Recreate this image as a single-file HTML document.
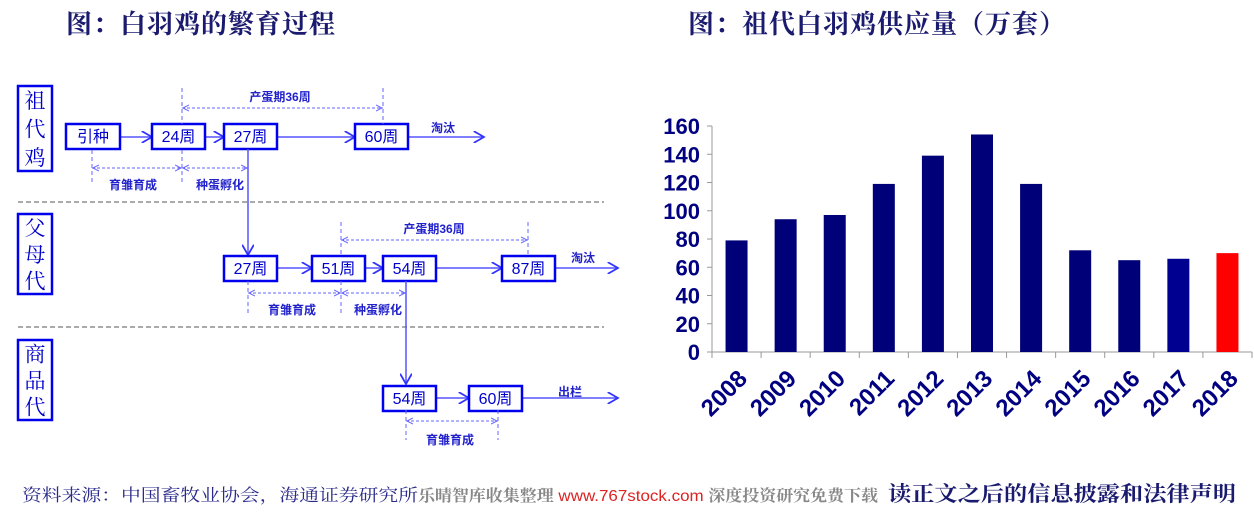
<!DOCTYPE html>
<html><head><meta charset="utf-8"><style>
body{margin:0;width:1254px;height:512px;background:#fff;overflow:hidden;font-family:"Liberation Sans","Noto Sans CJK SC",sans-serif}
svg{position:absolute;left:0;top:0}
</style></head><body>
<svg width="1254" height="512">
<defs>
<marker id="ar" markerWidth="8" markerHeight="8" refX="7" refY="4" orient="auto"><path d="M0,0L7,4L0,8" fill="none" stroke="#3333ff" stroke-width="1.2"/></marker>
<marker id="ad" markerWidth="8" markerHeight="8" refX="7" refY="4" orient="auto-start-reverse"><path d="M0,1L6,4L0,7" fill="none" stroke="#6666ff" stroke-width="1"/></marker>
</defs>
<g font-family="'Noto Serif CJK SC','Noto Sans CJK SC',serif" font-size="26" fill="#1a1a6e" font-weight="bold" letter-spacing="1">
<text x="66" y="33">图：白羽鸡的繁育过程</text>
<text x="688" y="33">图：祖代白羽鸡供应量（万套）</text>
</g>
<g id="diagram"></g>
<g id="chart"></g>
<g font-family="'Liberation Sans','Noto Serif CJK SC',serif" font-size="17">
<text x="22" y="501" fill="#2a2a8a" textLength="396" lengthAdjust="spacingAndGlyphs">资料来源：中国畜牧业协会，海通证券研究所</text>
<text x="418" y="501" fill="#888" font-size="16" font-weight="bold" textLength="460" lengthAdjust="spacingAndGlyphs">乐晴智库收集整理 <tspan fill="#d22" font-weight="normal">www.767stock.com</tspan> 深度投资研究免费下载</text>
<text x="888" y="501" fill="#1a1a6e" font-weight="bold" font-size="21" textLength="348" lengthAdjust="spacingAndGlyphs">读正文之后的信息披露和法律声明</text>
</g>
</svg>
<script>
const NS="http://www.w3.org/2000/svg";
function mk(p,t,a,txt){const e=document.createElementNS(NS,t);for(const k in a)e.setAttribute(k,a[k]);if(txt!==undefined)e.textContent=txt;p.appendChild(e);return e;}
// ---- diagram ----
const D=document.getElementById('diagram');
function sep(y){const e=mk(D,'line',{x1:18,y1:y,x2:604,y2:y,stroke:'#aaa','stroke-width':2,'stroke-dasharray':'5,3'});

}
sep(202);sep(327);
function vlabel(y1,y2,txt){const r=mk(D,'rect',{x:18,y:y1,width:34,height:y2-y1,fill:'none',stroke:'#0000ee','stroke-width':2.5});


const n=txt.length,step=(y2-y1)/n;
for(let i=0;i<n;i++){const t=mk(D,'text',{x:35,y:y1+step*i+step/2+8,'text-anchor':'middle','font-size':21,fill:'#0000cc','font-family':"'Noto Serif CJK SC',serif"},txt[i]);

}}
vlabel(86,171,'祖代鸡');vlabel(214,294,'父母代');vlabel(340,420,'商品代');
function box(x1,x2,y,txt){const r=mk(D,'rect',{x:x1,y:y,width:x2-x1,height:25,fill:'#fff',stroke:'#0000ee','stroke-width':2.5});


const t=mk(D,'text',{x:(x1+x2)/2,y:y+18,'text-anchor':'middle','font-size':16,fill:'#0000cc'},txt);

}
function arrow(x1,y1,x2,y2){const l=mk(D,'line',{x1,y1,x2,y2,stroke:'#5555ff','stroke-width':1.5,'marker-end':'url(#ar)'});

}
function dv(x,y1,y2){mk(D,'line',{x1:x,y1,x2:x,y2,stroke:'#6666ff','stroke-width':1,'stroke-dasharray':'4,3'});}
function dh(x1,x2,y){const l=mk(D,'line',{x1,y1:y,x2,y2:y,stroke:'#6666ff','stroke-width':1,'stroke-dasharray':'3,2','marker-start':'url(#ad)','marker-end':'url(#ad)'});

}
function lab(x,y,txt){const t=mk(D,'text',{x,y,'font-size':12,'font-weight':'bold',fill:'#2222cc','text-anchor':'middle'},txt);

}
// row1
arrow(120,137,152,137);arrow(205,137,224,137);arrow(277,137,355,137);arrow(408,137,484,137);
box(66,120,124,'引种');box(152,205,124,'24周');box(224,277,124,'27周');box(355,408,124,'60周');
lab(443,132,'淘汰');
dv(182,88,124);dv(383,88,124);dh(182,383,108);lab(280,101,'产蛋期36周');
dv(92,150,185);dv(182,150,185);dh(92,182,168);dh(182,248,168);lab(133,189,'育雏育成');lab(220,189,'种蛋孵化');
arrow(248,149,248,255);
// row2
arrow(277,268,312,268);arrow(365,268,383,268);arrow(436,268,502,268);arrow(555,268,618,268);
box(224,277,256,'27周');box(312,365,256,'51周');box(383,436,256,'54周');box(502,555,256,'87周');
lab(583,262,'淘汰');
dv(341,222,256);dv(528,222,256);dh(341,528,240);lab(434,233,'产蛋期36周');
dv(248,281,315);dv(341,281,315);dh(248,341,293);dh(341,406,293);lab(292,314,'育雏育成');lab(378,314,'种蛋孵化');
arrow(406,281,406,384);
// row3
arrow(436,398,469,398);arrow(522,398,618,398);
box(383,436,386,'54周');box(469,522,386,'60周');
lab(570,396,'出栏');
dv(406,410,440);dv(498,410,440);dh(406,498,421);lab(450,444,'育雏育成');

// ---- bar chart ----
const years=['2008','2009','2010','2011','2012','2013','2014','2015','2016','2017','2018'];
const values=[79,94,97,119,139,154,119,72,65,66,70];
const yTicks=[0,20,40,60,80,100,120,140,160];
const C=document.getElementById('chart');
const X0=712,X1=1252,Y0=352,Y1=126,YMAX=160;
const bw=(X1-X0)/years.length;
const ys=v=>Y0-(v/YMAX)*(Y0-Y1);
const xs=i=>X0+bw*(i+0.5);
const ax=mk(C,'line',{x1:X0,y1:Y1,x2:X0,y2:Y0,stroke:'#999','stroke-width':1});


const bx=mk(C,'line',{x1:X0,y1:Y0,x2:X1,y2:Y0,stroke:'#999','stroke-width':1});


yTicks.forEach(v=>{
 mk(C,'line',{x1:X0-5,y1:ys(v),x2:X0,y2:ys(v),stroke:'#999'});
 const t=mk(C,'text',{x:X0-12,y:ys(v)+8,'text-anchor':'end','font-size':22,'font-weight':'bold',fill:'#000080'},String(v));
 
 
});
for(let i=0;i<=years.length;i++)mk(C,'line',{x1:X0+bw*i,y1:Y0,x2:X0+bw*i,y2:Y0+6,stroke:'#999'});
years.forEach((y,i)=>{
 const r=mk(C,'rect',{x:xs(i)-11,y:ys(values[i]),width:22,height:Y0-ys(values[i]),fill:i===years.length-1?'#ff0000':(i===9?'#000090':'#000078')});
 
 
 const ax_=xs(i)+12, ay=380;
 const t=mk(C,'text',{x:ax_,y:ay,'text-anchor':'end','font-size':24,'font-weight':'bold',fill:'#000080',transform:`rotate(-45 ${ax_} ${ay})`},y);
 
 
});
</script>
</body></html>
